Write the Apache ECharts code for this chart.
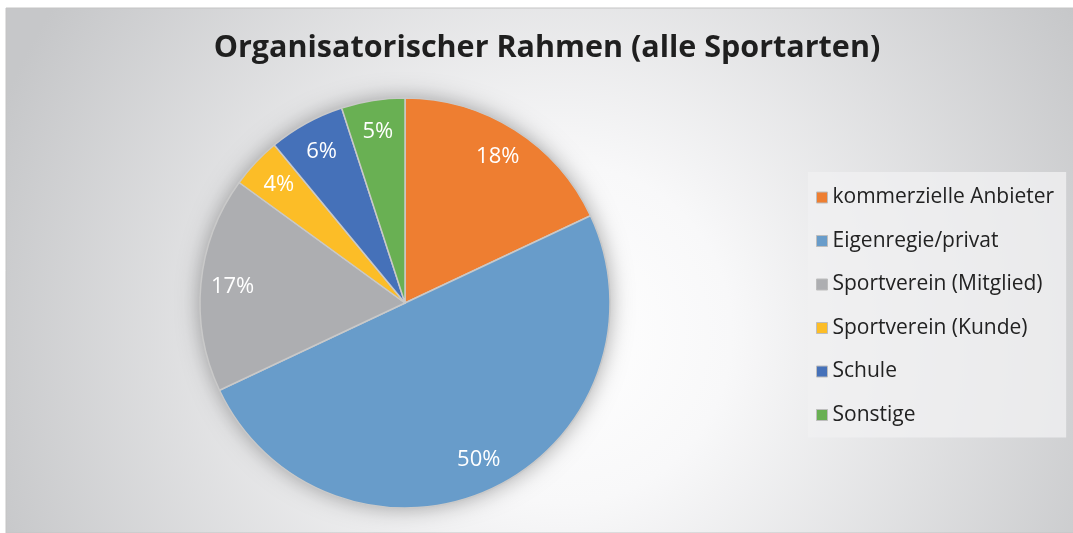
<!DOCTYPE html>
<html>
<head>
<meta charset="utf-8">
<script src="https://cdn.jsdelivr.net/npm/echarts@6/dist/echarts.min.js"></script>
<style>
html,body{margin:0;padding:0;background:#fff;}
#c{width:1073px;height:533px;}
</style>
</head>
<body>
<div id="c"></div>
<script>
const titleText = 'Organisatorischer Rahmen (alle Sportarten)';
const categories = ['kommerzielle Anbieter', 'Eigenregie/privat', 'Sportverein (Mitglied)', 'Sportverein (Kunde)', 'Schule', 'Sonstige'];
const values = [18, 50, 17, 4, 6, 5];
const colors = ['#ee7e31', '#689cca', '#adaeb1', '#fcbd27', '#4571b9', '#69b053'];

const chart = echarts.init(document.getElementById('c'));
const pieData = categories.map((n, i) => ({ name: n, value: values[i], itemStyle: { color: colors[i] } }));
const fontFam = '"Open Sans", Lato, sans-serif';
const center = [405, 303];
const R = 205;

chart.setOption({
  animation: false,
  backgroundColor: '#ffffff',
  graphic: [{
    type: 'rect',
    z: -10,
    silent: true,
    shape: { x: 6, y: 8, width: 1070, height: 525 },
    style: {
      fill: {
        type: 'radial', x: 0.52, y: 0.62, r: 1.15,
        colorStops: [
          { offset: 0, color: '#ffffff' },
          { offset: 0.28, color: '#f8f8f9' },
          { offset: 1, color: '#c6c7c9' }
        ]
      },
      stroke: '#c4c4c4',
      lineWidth: 1
    }
  }],
  title: {
    text: titleText,
    left: 542,
    textAlign: 'center',
    top: 28,
    textStyle: { fontFamily: fontFam, fontWeight: 'bold', fontSize: 30.5, color: '#1f1f1f' }
  },
  legend: {
    orient: 'vertical',
    left: 808,
    top: 172,
    data: categories,
    icon: 'rect',
    itemWidth: 11,
    itemHeight: 11,
    itemGap: 22.5,
    padding: [15, 12, 12, 8],
    backgroundColor: 'rgba(240,240,241,0.8)',
    itemStyle: { borderColor: '#bdbdbd', borderWidth: 1 },
    textStyle: { fontFamily: fontFam, fontSize: 21, color: '#222', lineHeight: 20, padding: [0, 0, 0, 0] }
  },
  series: [
    {
      type: 'pie',
      silent: true,
      center: center,
      radius: [0, R],
      z: 1,
      label: { show: false },
      labelLine: { show: false },
      data: [{ name: '', value: 1, itemStyle: { color: '#cfcfcf', shadowBlur: 22, shadowColor: 'rgba(0,0,0,0.35)' } }]
    },
    {
      type: 'pie',
      center: center,
      radius: [0, R],
      startAngle: 90,
      z: 2,
      itemStyle: { borderColor: '#c9c9c9', borderWidth: 1.5 },
      label: { show: false },
      labelLine: { show: false },
      data: pieData
    },
    {
      type: 'pie',
      silent: true,
      center: center,
      radius: [R * 0.66, R],
      startAngle: 90,
      z: 3,
      itemStyle: { color: 'rgba(0,0,0,0)', borderWidth: 0 },
      label: {
        show: true,
        position: 'inside',
        formatter: p => p.value + '%',
        fontFamily: fontFam,
        fontSize: 22,
        color: '#ffffff'
      },
      labelLine: { show: false },
      data: categories.map((n, i) => ({ name: n, value: values[i] }))
    }
  ]
});
</script>
</body>
</html>
